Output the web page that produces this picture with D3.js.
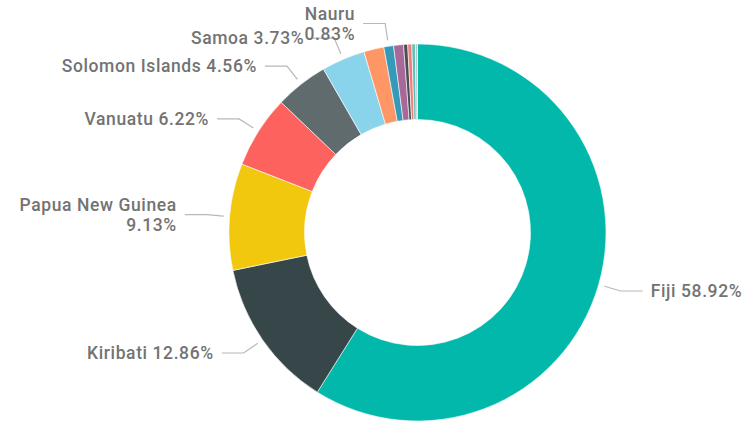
<!DOCTYPE html>
<html>
<head>
<meta charset="utf-8">
<script src="https://cdn.jsdelivr.net/npm/d3@7"></script>
<style>
  html, body { margin: 0; padding: 0; background: #ffffff; }
  svg { display: block; }
</style>
</head>
<body>
<svg id="chart" width="749" height="432"></svg>
<script>
// ---- data ----
const countries = ["Fiji", "Kiribati", "Papua New Guinea", "Vanuatu", "Solomon Islands", "Samoa",
                   "Tonga", "Nauru", "Tuvalu", "Marshall Islands", "Palau", "Micronesia", "Cook Islands"];
const shares = [58.92, 12.86, 9.13, 6.22, 4.56, 3.73, 1.72, 0.83, 0.85, 0.35, 0.35, 0.30, 0.18];
const colors = ["#01B8AA", "#374649", "#F2C80F", "#FD625E", "#5F6B6D", "#8AD4EB",
                "#FE9666", "#3599B8", "#A66999", "#4A4F55", "#F47C7C", "#5FBFB2", "#B3C7C4"];
const labelled = ["Fiji", "Kiribati", "Papua New Guinea", "Vanuatu", "Solomon Islands", "Samoa", "Nauru"];
const wrapped = ["Papua New Guinea", "Nauru"];

// ---- layout ----
const W = 749, H = 432;
const cx = 417.5, cy = 232.5;
const outerR = 188.5, innerR = 113;
const svg = d3.select("#chart");
const g = svg.append("g").attr("transform", `translate(${cx},${cy})`);

const data = countries.map((c, i) => ({ name: c, value: shares[i], color: colors[i] }));

const pie = d3.pie().value(d => d.value).sort(null);
const arcs = pie(data);
const arc = d3.arc().innerRadius(innerR).outerRadius(outerR);

g.selectAll("path.slice")
  .data(arcs)
  .join("path")
  .attr("class", "slice")
  .attr("d", arc)
  .attr("fill", d => d.data.color)
  .attr("stroke", "#ffffff")
  .attr("stroke-width", 0.6);

// ---- labels ----
const fmt = d3.format(".2f");
const startArc = d3.arc().innerRadius(outerR + 6).outerRadius(outerR + 6);
const elbowArc = d3.arc().innerRadius(outerR + 23).outerRadius(outerR + 23);
const hLen = 22, gap = 8;

const lab = arcs.filter(d => labelled.includes(d.data.name));
const lg = g.append("g");

lab.forEach(d => {
  const mid = (d.startAngle + d.endAngle) / 2;
  const right = Math.sin(mid) > 0;
  const p0 = startArc.centroid(d);
  const p1 = elbowArc.centroid(d);
  const p2 = [p1[0] + (right ? hLen : -hLen), p1[1]];
  lg.append("polyline")
    .attr("points", [p0, p1, p2].map(p => p.join(",")).join(" "))
    .attr("fill", "none")
    .attr("stroke", "#b8b8b8")
    .attr("stroke-width", 1.2);

  const tx = p2[0] + (right ? gap : -gap);
  const pct = fmt(d.data.value) + "%";
  const lines = wrapped.includes(d.data.name) ? [d.data.name, pct] : [d.data.name + " " + pct];
  const lh = 20;
  const t = lg.append("text")
    .attr("x", tx)
    .attr("y", p1[1])
    .attr("text-anchor", right ? "start" : "end")
    .attr("font-family", "Roboto, 'DejaVu Sans', sans-serif")
    .attr("font-size", 17.5)
    .attr("font-weight", 500)
    .attr("letter-spacing", "0.6px")
    .attr("fill", "#737373");
  lines.forEach((ln, i) => {
    t.append("tspan")
      .attr("x", tx)
      .attr("y", p1[1] + (i - (lines.length - 1) / 2) * lh)
      .attr("dy", "0.35em")
      .text(ln);
  });
});
</script>
</body>
</html>
